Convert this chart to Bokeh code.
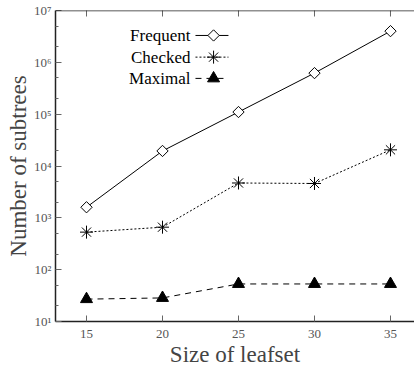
import numpy as np
from bokeh.plotting import figure
from bokeh.models import FixedTicker, Range1d, Span
from bokeh.embed import file_html
from bokeh.resources import INLINE
from bokeh.core.properties import value

# ---- data ----
leafset = [15, 20, 25, 30, 35]
frequent = [1600, 19500, 110000, 620000, 4000000]
checked = [530, 660, 4700, 4600, 20500]
maximal = [27, 28.5, 53, 53, 53]
series_names = ["Frequent", "Checked", "Maximal"]
x_ticks = [15, 20, 25, 30, 35]
y_ticks = [10, 100, 1000, 10000, 100000, 1000000, 10000000]
y_tick_labels = ["10\u00b9", "10\u00b2", "10\u00b3", "10\u2074", "10\u2075", "10\u2076", "10\u2077"]
y_minor = [m * t for t in y_ticks[:-1] for m in (2, 5)]

FONT = "Liberation Serif"
TICK_C = "#666666"

p = figure(width=414, height=369, y_axis_type="log",
           x_range=Range1d(12.96, 36.58), y_range=Range1d(10, 1e7),
           output_backend="svg", toolbar_location=None,
           min_border_left=55, min_border_right=0, min_border_top=10, min_border_bottom=48)
p.outline_line_color = None
p.xgrid.visible = False
p.ygrid.visible = False
p.background_fill_color = "white"
p.border_fill_color = "white"

# axes
xa = p.xaxis[0]
xa.ticker = FixedTicker(ticks=x_ticks, minor_ticks=[])
xa.major_tick_in = 6
xa.major_tick_out = 0
xa.minor_tick_in = 0
xa.minor_tick_out = 0
xa.axis_label = "Size of leafset"
xa.axis_label_text_font = FONT
xa.axis_label_text_font_size = "23px"
xa.axis_label_text_font_style = "normal"
xa.axis_label_standoff = 1
xa.major_label_text_font = FONT
xa.major_label_text_font_size = "13px"
xa.major_label_text_color = "#555555"
xa.major_label_standoff = 8
xa.axis_line_width = 1.5
xa.axis_line_color = "#222222"
xa.major_tick_line_color = TICK_C

ya = p.yaxis[0]
ya.ticker = FixedTicker(ticks=y_ticks, minor_ticks=y_minor)
ya.major_label_overrides = dict(zip(y_ticks, y_tick_labels))
ya.major_tick_in = 6
ya.major_tick_out = 0
ya.minor_tick_in = 3
ya.minor_tick_out = 0
ya.axis_label = "Number of subtrees"
ya.axis_label_text_font = FONT
ya.axis_label_text_font_size = "23px"
ya.axis_label_text_font_style = "normal"
ya.axis_label_standoff = 0
ya.major_label_text_font = FONT
ya.major_label_text_font_size = "13px"
ya.major_label_text_color = "#555555"
ya.major_label_standoff = 4
ya.axis_line_width = 1.5
ya.axis_line_color = "#222222"
ya.major_tick_line_color = TICK_C
ya.minor_tick_line_color = TICK_C

# top border line
p.add_layout(Span(location=y_ticks[-1], dimension="width",
                  line_color="#222222", line_width=1.5))
# top inner tick marks (half of each dash is clipped by the frame)
p.scatter(x_ticks, [y_ticks[-1]] * len(x_ticks), marker="dash", angle=np.pi / 2,
          size=12, line_color=TICK_C, line_width=1)

# series
p.line(leafset, frequent, line_color="black", line_width=1)
p.scatter(leafset, frequent, marker="square", angle=np.pi / 4, size=8,
          fill_color="white", line_color="black", line_width=1)

p.line(leafset, checked, line_color="black", line_width=1, line_dash="2 2")
p.scatter(leafset, checked, marker="asterisk", size=13, line_color="black", line_width=1)

p.line(leafset, maximal, line_color="black", line_width=1, line_dash="6 5")
p.scatter(leafset, maximal, marker="triangle", size=12, fill_color="black", line_color="black")

# legend (label on the left, sample on the right)
leg_y = [3.3e6, 1.26e6, 4.9e5]
lab_x, l0, l1, mx = 21.84, 22.17, 24.34, 23.36
p.text(x=[lab_x] * 3, y=leg_y, text=series_names, text_font=value(FONT),
       text_font_size="17px", text_align="right", text_baseline="middle", text_color="black")
p.line([l0, l1], [leg_y[0]] * 2, line_color="black", line_width=1)
p.scatter([mx], [leg_y[0]], marker="square", angle=np.pi / 4, size=8,
          fill_color="white", line_color="black")
p.line([l0, l1], [leg_y[1]] * 2, line_color="black", line_width=1, line_dash="2 2")
p.scatter([mx], [leg_y[1]], marker="asterisk", size=13, line_color="black")
p.line([l0, l1], [leg_y[2]] * 2, line_color="black", line_width=1, line_dash="6 5")
p.scatter([mx], [leg_y[2]], marker="triangle", size=12, fill_color="black", line_color="black")

open("out.html", "w").write(file_html(p, INLINE))
